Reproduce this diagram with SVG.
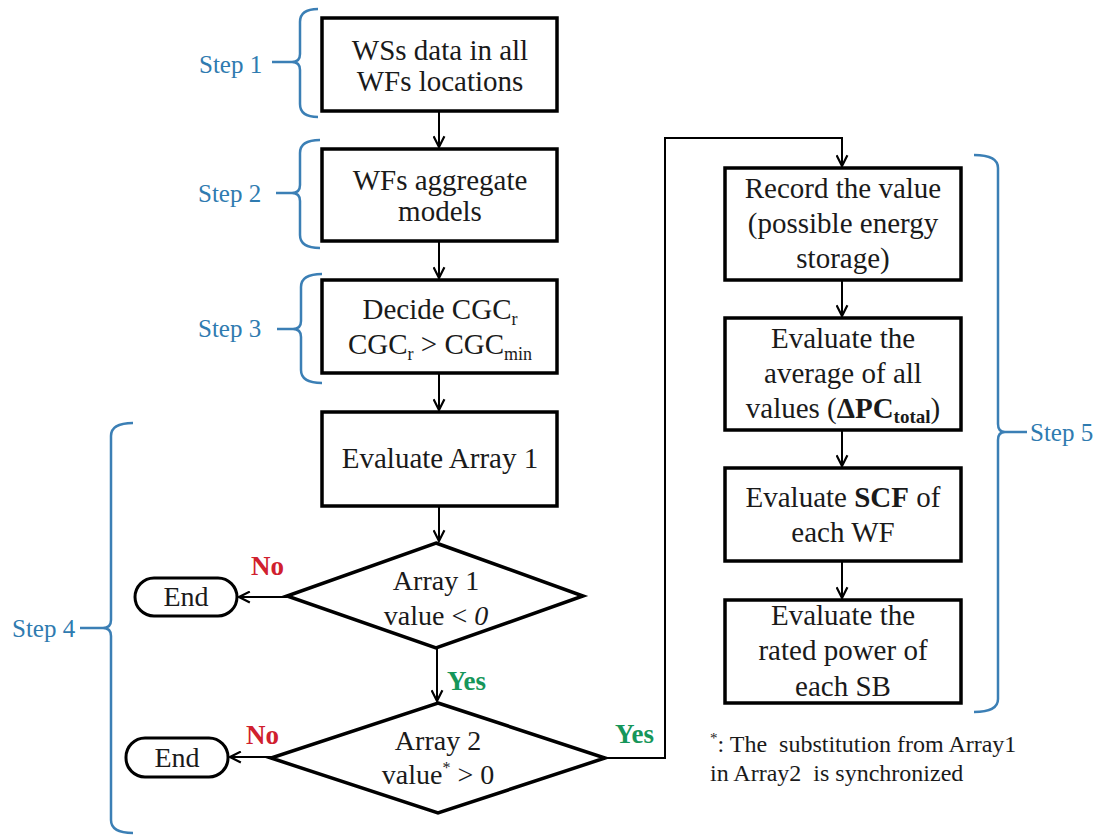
<svg xmlns="http://www.w3.org/2000/svg" width="1100" height="835" viewBox="0 0 1100 835">
<defs>
<style>
.box{fill:#fff;stroke:#000;stroke-width:3.5}
.end{fill:#fff;stroke:#000;stroke-width:3}
.t{font-family:"Liberation Serif","Times New Roman",serif;font-size:29px;fill:#1a1a1a;text-anchor:middle}
.e{font-family:"Liberation Serif","Times New Roman",serif;font-size:28px;fill:#1a1a1a;text-anchor:middle}
.step{font-family:"Liberation Serif","Times New Roman",serif;font-size:25px;fill:#2f7bb0}
.brace{fill:none;stroke:#3b7fb5;stroke-width:2.5}
.con{fill:none;stroke:#000;stroke-width:2}
.no{font-family:"Liberation Serif","Times New Roman",serif;font-size:27px;font-weight:bold;fill:#d0202e}
.yes{font-family:"Liberation Serif","Times New Roman",serif;font-size:27px;font-weight:bold;fill:#16965a}
.note{font-family:"Liberation Serif","Times New Roman",serif;font-size:24px;fill:#1a1a1a;white-space:pre}
</style>
<marker id="arr" viewBox="0 0 12 12" refX="11" refY="6" markerWidth="13" markerHeight="13" markerUnits="userSpaceOnUse" orient="auto">
<path d="M1,1 L11,6 L1,11" fill="none" stroke="#000" stroke-width="2"/>
</marker>
</defs>

<g id="connectors">
<line class="con" x1="439" y1="111" x2="439" y2="147" marker-end="url(#arr)"/>
<line class="con" x1="439" y1="241" x2="439" y2="278" marker-end="url(#arr)"/>
<line class="con" x1="439" y1="373" x2="439" y2="410" marker-end="url(#arr)"/>
<line class="con" x1="439" y1="506" x2="439" y2="541" marker-end="url(#arr)"/>
<line class="con" x1="437" y1="648" x2="437" y2="701" marker-end="url(#arr)"/>
<line class="con" x1="287" y1="597" x2="239" y2="597" marker-end="url(#arr)"/>
<line class="con" x1="271" y1="757" x2="230" y2="757" marker-end="url(#arr)"/>
<polyline class="con" points="605,758 665,758 665,138 842,138 842,166" marker-end="url(#arr)"/>
<line class="con" x1="842" y1="280" x2="842" y2="316" marker-end="url(#arr)"/>
<line class="con" x1="842" y1="430" x2="842" y2="466" marker-end="url(#arr)"/>
<line class="con" x1="842" y1="561" x2="842" y2="598" marker-end="url(#arr)"/>
</g>

<g id="step1">
<path class="brace" d="M318,9 Q300,9 300,22 L300,54 Q300,62 292,62 Q300,62 300,70 L300,104 Q300,117 318,117 M272,62 L292,62"/>
<text class="step" x="199" y="73">Step 1</text>
</g>
<g id="step2">
<path class="brace" d="M320,140 Q300,140 300,153 L300,185 Q300,193 292,193 Q300,193 300,201 L300,235 Q300,248 320,248 M276,193 L292,193"/>
<text class="step" x="198" y="202">Step 2</text>
</g>
<g id="step3">
<path class="brace" d="M322,274 Q301,274 301,287 L301,321 Q301,329 293,329 Q301,329 301,337 L301,370 Q301,383 322,383 M277,329 L293,329"/>
<text class="step" x="198" y="337">Step 3</text>
</g>
<g id="step4">
<path class="brace" d="M133,423 Q111,423 111,436 L111,620 Q111,628 103,628 Q111,628 111,636 L111,820 Q111,833 133,833 M80,628 L103,628"/>
<text class="step" x="12" y="637">Step 4</text>
</g>
<g id="step5">
<path class="brace" d="M974,155 Q998,155 998,168 L998,424 Q998,432 1005,432 Q998,432 998,440 L998,699 Q998,712 974,712 M1005,432 L1027,432"/>
<text class="step" x="1030" y="441">Step 5</text>
</g>

<g id="box1">
<rect class="box" x="322" y="18" width="235" height="93"/>
<text class="t" x="440" y="60">WSs data in all</text>
<text class="t" x="440" y="91">WFs locations</text>
</g>
<g id="box2">
<rect class="box" x="322" y="149" width="235" height="92"/>
<text class="t" x="440" y="190">WFs aggregate</text>
<text class="t" x="440" y="221">models</text>
</g>
<g id="box3">
<rect class="box" x="322" y="280" width="235" height="93"/>
<text class="t" x="440" y="319">Decide CGC<tspan font-size="18" dy="6">r</tspan></text>
<text class="t" x="440" y="354">CGC<tspan font-size="18" dy="6">r</tspan><tspan dy="-6"> &gt; CGC</tspan><tspan font-size="18" dy="6">min</tspan></text>
</g>
<g id="box4">
<rect class="box" x="322" y="412" width="235" height="94"/>
<text class="t" x="440" y="468">Evaluate Array 1</text>
</g>
<g id="diamond1">
<polygon class="box" points="436,543 583,596 436,648 287,596"/>
<text class="e" x="436" y="590">Array 1</text>
<text class="e" x="436" y="625">value &lt; <tspan font-style="italic">0</tspan></text>
</g>
<g id="end1">
<rect class="end" x="135" y="578" width="102" height="38" rx="19"/>
<text class="e" x="186" y="606">End</text>
</g>
<g id="label-no1"><text class="no" x="251" y="575">No</text></g>
<g id="label-yes1"><text class="yes" x="447" y="690">Yes</text></g>
<g id="diamond2">
<polygon class="box" points="438,703 605,758 438,813 271,758"/>
<text class="e" x="438" y="750">Array 2</text>
<text class="e" x="438" y="784">value<tspan font-size="16" dy="-11">*</tspan><tspan dy="11"> &gt; 0</tspan></text>
</g>
<g id="end2">
<rect class="end" x="126" y="738" width="102" height="39" rx="19"/>
<text class="e" x="177" y="767">End</text>
</g>
<g id="label-no2"><text class="no" x="246" y="744">No</text></g>
<g id="label-yes2"><text class="yes" x="615" y="743">Yes</text></g>

<g id="box5">
<rect class="box" x="725" y="168" width="236" height="112"/>
<text class="t" x="843" y="198">Record the value</text>
<text class="t" x="843" y="233">(possible  energy</text>
<text class="t" x="843" y="268">storage)</text>
</g>
<g id="box6">
<rect class="box" x="725" y="318" width="236" height="112"/>
<text class="t" x="843" y="348">Evaluate the</text>
<text class="t" x="843" y="383">average of all</text>
<text class="t" x="843" y="418">values (<tspan font-weight="bold">ΔPC</tspan><tspan font-weight="bold" font-size="19" dy="5">total</tspan><tspan dy="-5">)</tspan></text>
</g>
<g id="box7">
<rect class="box" x="725" y="468" width="236" height="93"/>
<text class="t" x="843" y="507">Evaluate <tspan font-weight="bold">SCF</tspan> of</text>
<text class="t" x="843" y="542">each WF</text>
</g>
<g id="box8">
<rect class="box" x="725" y="600" width="236" height="103"/>
<text class="t" x="843" y="625">Evaluate the</text>
<text class="t" x="843" y="660">rated power of</text>
<text class="t" x="843" y="696">each SB</text>
</g>

<g id="footnote">
<text class="note" x="710" y="752"><tspan font-size="15" dy="-9">*</tspan><tspan dy="9">: The  substitution from Array1</tspan></text>
<text class="note" x="710" y="781">in Array2  is synchronized</text>
</g>
</svg>
